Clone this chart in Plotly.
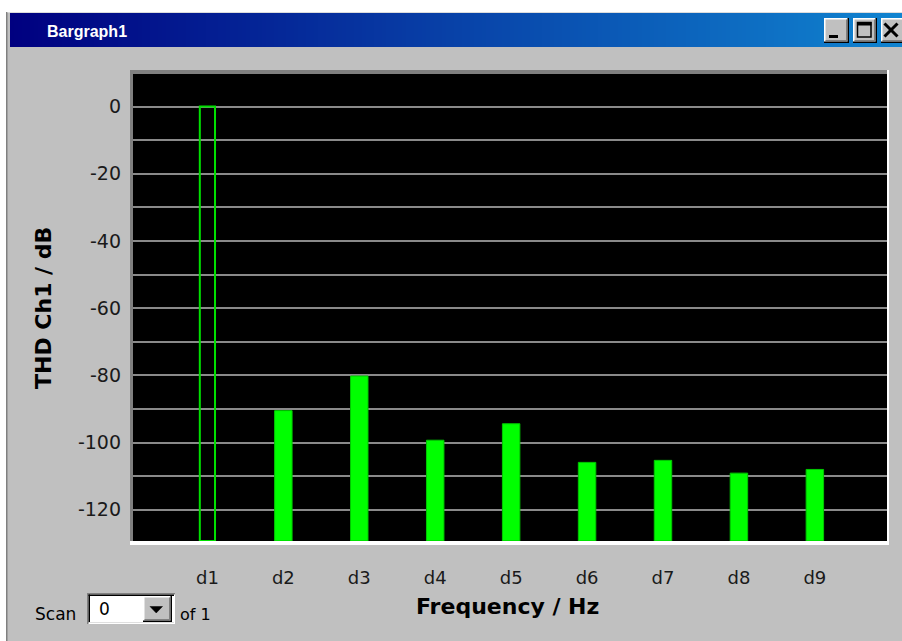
import plotly.graph_objects as go

# ---------------- data ----------------
categories = ["d1", "d2", "d3", "d4", "d5", "d6", "d7", "d8", "d9"]
thd_db = [0.0, -90.5, -80.2, -99.3, -94.4, -105.9, -105.3, -109.1, -108.0]
y_tick_vals = [0, -20, -40, -60, -80, -100, -120]
y_tick_text = ["0", "-20", "-40", "-60", "-80", "-100", "-120"]
window_title = "Bargraph1"
x_title = "Frequency / Hz"
y_title = "THD Ch1 / dB"

# ---------------- layout constants ----------------
W, H = 902, 641
PL, PR, PT, PB = 133, 887, 74, 541          # black plot area in pixels
Y_MIN, Y_MAX = -129.3, 9.7
X_MIN, X_MAX = -0.98, 8.95
GREEN = "#00FF00"
GRAY = "#C0C0C0"


def fx(x):
    return x / W


def fy(y):
    return 1 - y / H


shapes = []


def rect(x0, y0, x1, y1, fill, line_color=None, line_width=0):
    shapes.append(dict(type="rect", xref="paper", yref="paper",
                       x0=fx(x0), x1=fx(x1), y0=fy(y1), y1=fy(y0),
                       fillcolor=fill,
                       line=dict(color=line_color or fill, width=line_width),
                       layer="above"))


def line(x0, y0, x1, y1, color, width):
    shapes.append(dict(type="line", xref="paper", yref="paper",
                       x0=fx(x0), x1=fx(x1), y0=fy(y0), y1=fy(y1),
                       line=dict(color=color, width=width), layer="above"))


# outer white strips and window border
rect(0, 0, W, 12, "#FFFFFF")
rect(0, 0, 6, H, "#FFFFFF")
rect(6, 12, 7.5, H, "#808080")
rect(7.5, 12, W, 13, "#DCDCDC")

# title bar gradient (navy -> light blue)
c0 = (0, 0, 128)
c1 = (16, 132, 208)
x_start, x_end, step = 10, W, 4
n = int((x_end - x_start) / step) + 1
for i in range(n):
    t = i / (n - 1)
    col = tuple(int(round(c0[k] + (c1[k] - c0[k]) * t)) for k in range(3))
    xa = x_start + i * step
    rect(xa, 13, min(xa + step + 0.5, W), 47, "rgb(%d,%d,%d)" % col)


def button(x0, y0, x1, y1):
    rect(x0, y0, x1, y1, GRAY)
    rect(x0, y0, x1, y0 + 1.5, "#FFFFFF")
    rect(x0, y0, x0 + 1.5, y1, "#FFFFFF")
    rect(x0, y1 - 1.5, x1, y1, "#000000")
    rect(x1 - 1.5, y0, x1, y1, "#000000")
    rect(x0 + 1.5, y1 - 3, x1 - 1.5, y1 - 1.5, "#808080")
    rect(x1 - 3, y0 + 1.5, x1 - 1.5, y1 - 1.5, "#808080")


# title bar buttons
button(824, 18, 849, 43)
rect(829, 35, 838, 38, "#000000")
button(853, 18, 877, 43)
shapes.append(dict(type="rect", xref="paper", yref="paper",
                   x0=fx(857.5), x1=fx(871), y0=fy(37), y1=fy(22.5),
                   fillcolor="rgba(0,0,0,0)", line=dict(color="#000000", width=1.5),
                   layer="above"))
rect(857, 22, 871.5, 25.5, "#000000")
button(881, 18, 905, 43)
line(884.5, 23.5, 897.5, 36.5, "#000000", 3)
line(897.5, 23.5, 884.5, 36.5, "#000000", 3)

# plot frame (3D sunken look)
rect(130, 70, PR, PT, "#808080")
rect(130, 70, PL, PB, "#808080")
rect(130, PB, 889, 545, "#FFFFFF")
rect(PR, 70, 889, 545, "#FFFFFF")

# Scan combo box
rect(87, 593, 175, 624, "#FFFFFF")
rect(87, 593, 175, 594.5, "#808080")
rect(87, 593, 88.5, 624, "#808080")
rect(88.5, 594.5, 174, 596, "#000000")
rect(88.5, 594.5, 90, 623, "#000000")
rect(88.5, 622, 174, 623, "#DFDFDF")
# dropdown button
rect(143, 596, 172, 622, GRAY)
rect(143, 596, 172, 597.5, "#FFFFFF")
rect(143, 596, 144.5, 622, "#FFFFFF")
rect(143, 620.5, 172, 622, "#000000")
rect(170.5, 596, 172, 622, "#000000")
rect(144.5, 619, 170.5, 620.5, "#808080")
rect(169, 597.5, 170.5, 620.5, "#808080")
shapes.append(dict(type="path", xref="paper", yref="paper",
                   path="M %f %f L %f %f L %f %f Z" % (fx(150), fy(606.5), fx(162.5), fy(606.5), fx(156.25), fy(613)),
                   fillcolor="#000000", line=dict(color="#000000", width=0.5), layer="above"))

annotations = [
    dict(text="<b>%s</b>" % window_title, x=fx(45), y=fy(31), xref="paper", yref="paper",
         xanchor="left", yanchor="middle", showarrow=False,
         font=dict(family="Liberation Sans", size=16, color="#FFFFFF")),
    dict(text="<b>%s</b>" % x_title, x=fx(507.5), y=fy(606), xref="paper", yref="paper",
         xanchor="center", yanchor="middle", showarrow=False,
         font=dict(family="DejaVu Sans", size=22, color="#000000")),
    dict(text="<b>%s</b>" % y_title, x=fx(43), y=fy(308), xref="paper", yref="paper",
         xanchor="center", yanchor="middle", showarrow=False, textangle=-90,
         font=dict(family="DejaVu Sans", size=22, color="#000000")),
    dict(text="Scan", x=fx(33), y=fy(614), xref="paper", yref="paper",
         xanchor="left", yanchor="middle", showarrow=False,
         font=dict(family="DejaVu Sans", size=17, color="#000000")),
    dict(text="0", x=fx(97), y=fy(609), xref="paper", yref="paper",
         xanchor="left", yanchor="middle", showarrow=False,
         font=dict(family="DejaVu Sans", size=17, color="#000000")),
    dict(text="of 1", x=fx(178), y=fy(614), xref="paper", yref="paper",
         xanchor="left", yanchor="middle", showarrow=False,
         font=dict(family="DejaVu Sans", size=16, color="#000000")),
]

# ---------------- bars ----------------
REF_WIDTH, BAR_WIDTH = 0.2, 0.23
is_ref = [i == 0 for i in range(len(categories))]
fig = go.Figure()
fig.add_trace(go.Bar(
    x=categories,
    y=[v - Y_MIN for v in thd_db],
    base=Y_MIN,
    width=[REF_WIDTH if r else BAR_WIDTH for r in is_ref],
    marker=dict(
        color=["rgba(0,0,0,0)" if r else GREEN for r in is_ref],
        line=dict(color=["#00E000" if r else "#00C800" for r in is_ref],
                  width=[2 if r else 1 for r in is_ref]),
    ),
    hoverinfo="skip",
))

fig.update_layout(
    width=W, height=H, autosize=False,
    margin=dict(l=0, r=0, t=0, b=0),
    paper_bgcolor=GRAY, plot_bgcolor="#000000",
    showlegend=False,
    shapes=shapes, annotations=annotations,
    xaxis=dict(domain=[fx(PL), fx(PR)], range=[X_MIN, X_MAX], type="category",
               showgrid=False, zeroline=False, showline=False, ticks="",
               tickfont=dict(family="DejaVu Sans", size=18, color="#1A1A1A"),
               ticklabelstandoff=24, fixedrange=True),
    yaxis=dict(domain=[fy(PB), fy(PT)], range=[Y_MIN, Y_MAX],
               tickvals=y_tick_vals, ticktext=y_tick_text,
               showgrid=True, gridcolor="#8A8A8A", gridwidth=2,
               minor=dict(dtick=10, tick0=0, showgrid=True, gridcolor="#8A8A8A", gridwidth=2),
               zeroline=False, showline=False, ticks="",
               tickfont=dict(family="DejaVu Sans", size=19, color="#1A1A1A"),
               ticklabelstandoff=11, fixedrange=True),
)

fig.write_html(
    "out.html",
    config={"displayModeBar": False},
    post_script="document.body.style.margin='0';document.body.style.overflow='hidden';",
)
